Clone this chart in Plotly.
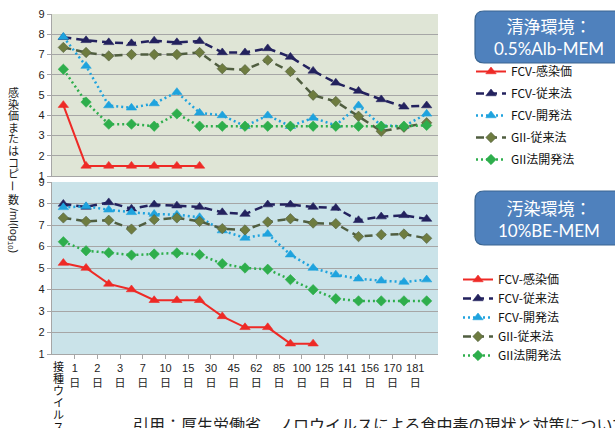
import plotly.graph_objects as go

# ---------------- data ----------------
categories = ["接種ウイルス", "1日", "2日", "3日", "7日", "10日", "15日", "30日", "45日",
              "62日", "85日", "100日", "125日", "141日", "156日", "170日", "181日"]

series_names = ["FCV-感染価", "FCV-従来法", "FCV-開発法", "GII-従来法", "GII法開発法"]

# 清浄環境: 0.5%Alb-MEM
clean_fcv_titer = [4.5, 1.5, 1.5, 1.5, 1.5, 1.5, 1.5, None, None, None, None, None, None, None, None, None, None]
clean_fcv_conv = [7.85, 7.7, 7.6, 7.55, 7.68, 7.6, 7.66, 7.1, 7.1, 7.3, 6.88, 6.19, 5.6, 5.2, 4.78, 4.42, 4.48]
clean_fcv_dev = [7.87, 6.43, 4.48, 4.37, 4.58, 5.14, 4.12, 3.99, 3.46, 3.99, 3.46, 3.87, 3.5, 4.48, 3.49, 3.46, 4.07]
clean_gii_conv = [7.35, 7.1, 6.93, 7.0, 7.0, 7.0, 7.1, 6.3, 6.25, 6.72, 6.16, 4.99, 4.68, 3.95, 3.21, 3.41, 3.63]
clean_gii_dev = [6.27, 4.65, 3.56, 3.56, 3.46, 4.07, 3.46, 3.46, 3.46, 3.46, 3.46, 3.46, 3.46, 3.46, 3.46, 3.46, 3.5]

# 汚染環境: 10%BE-MEM
dirty_fcv_titer = [5.23, 5.0, 4.26, 4.0, 3.5, 3.5, 3.5, 2.75, 2.24, 2.24, 1.48, 1.48, None, None, None, None, None]
dirty_fcv_conv = [7.98, 7.84, 8.05, 7.76, 7.95, 7.9, 7.84, 7.59, 7.51, 7.95, 7.95, 7.84, 7.79, 7.22, 7.39, 7.45, 7.28]
dirty_fcv_dev = [7.82, 7.87, 7.71, 7.59, 7.51, 7.48, 7.36, 6.74, 6.4, 6.58, 5.62, 5.0, 4.69, 4.5, 4.41, 4.35, 4.46]
dirty_gii_conv = [7.33, 7.17, 7.22, 6.81, 7.25, 7.33, 7.17, 6.83, 6.77, 7.14, 7.29, 7.09, 7.06, 6.46, 6.55, 6.58, 6.38]
dirty_gii_dev = [6.22, 5.8, 5.71, 5.6, 5.65, 5.7, 5.62, 5.2, 5.0, 4.94, 4.46, 3.99, 3.57, 3.47, 3.47, 3.47, 3.47]

y_ticks = [1, 2, 3, 4, 5, 6, 7, 8, 9]
panel_titles = ["清浄環境：<br>0.5%Alb-MEM", "汚染環境：<br>10%BE-MEM"]
y_title_upright = "感染価またはコピ"
y_title_tail = "/ml(log<sub>10</sub>)"
citation = "引用：厚生労働省　ノロウイルスによる食中毒の現状と対策について"

# ---------------- styles ----------------
W, H = 615, 428
ML, MR, MT, MB = 52, 177, 14, 74
PW, PH = W - ML - MR, H - MT - MB


def px_x(p):
    return (p - ML) / PW


def px_y(p):
    return (H - MB - p) / PH


styles = [
    dict(color="#EE2A26", dash="solid", symbol="triangle-up", width=2.0, msize=9),
    dict(color="#23225E", dash="8px,5px", symbol="triangle-up", width=2.5, msize=9),
    dict(color="#1FA3DE", dash="2px,3px", symbol="triangle-up", width=2.5, msize=9),
    dict(color="#505E40", dash="8px,5px", symbol="diamond", width=2.5, msize=8),
    dict(color="#2EAE4C", dash="2px,3px", symbol="diamond", width=2.5, msize=8),
]
marker_fill = ["#EE2A26", "#23225E", "#1FA3DE", "#6E7C40", "#2EAE4C"]

xs = list(range(len(categories)))
fig = go.Figure()

panels = [
    ("x", "y", "legend", [clean_fcv_titer, clean_fcv_conv, clean_fcv_dev, clean_gii_conv, clean_gii_dev]),
    ("x2", "y2", "legend2", [dirty_fcv_titer, dirty_fcv_conv, dirty_fcv_dev, dirty_gii_conv, dirty_gii_dev]),
]
for pi, (xa, ya, lg, data) in enumerate(panels):
    for si, (name, vals) in enumerate(zip(series_names, data)):
        st = styles[si]
        fig.add_trace(go.Scatter(
            x=xs, y=vals, name=name, mode="lines+markers",
            xaxis=xa, yaxis=ya, legend=lg, legendgroup=f"{lg}_{si}",
            line=dict(color=st["color"], width=st["width"], dash=st["dash"]),
            marker=dict(symbol=st["symbol"], size=st["msize"], color=marker_fill[si],
                        line=dict(width=0.6, color=st["color"])),
            connectgaps=False, showlegend=True,
        ))

grid_col = "#A6A6A6"
tick_font = dict(family="Liberation Sans, Noto Sans CJK JP", size=11, color="#222222")
ytick_common = dict(range=[1, 9], tickvals=y_ticks, showgrid=True, gridcolor=grid_col, gridwidth=1.4,
                    showline=True, linecolor=grid_col, linewidth=1.4, ticks="outside", ticklen=4,
                    tickcolor=grid_col, tickfont=tick_font, zeroline=False, fixedrange=True,
                    automargin=False)

top_dom = [px_y(176), 1.0]
bot_dom = [0.0, px_y(182)]

xtick_vals = [i - 0.5 for i in xs[1:]]
xtick_text = [c[:-1] + "<br>" + c[-1] for c in categories[1:]]

legend_font = dict(family="Noto Sans CJK JP", size=12, color="#111111")

fig.update_layout(
    width=W, height=H, margin=dict(l=ML, r=MR, t=MT, b=MB, autoexpand=False),
    paper_bgcolor="white", plot_bgcolor="rgba(0,0,0,0)",
    xaxis=dict(domain=[0, 1], anchor="y", range=[-0.5, len(xs) - 0.5], showgrid=False,
               showline=True, linecolor=grid_col, linewidth=1.4, showticklabels=False,
               ticks="", zeroline=False, automargin=False),
    yaxis=dict(domain=top_dom, anchor="x", **ytick_common),
    xaxis2=dict(domain=[0, 1], anchor="y2", range=[-0.5, len(xs) - 0.5], showgrid=False,
                showline=True, linecolor=grid_col, linewidth=1.4, tickvals=xtick_vals,
                ticktext=xtick_text, ticks="outside", ticklen=4, tickcolor=grid_col,
                tickfont=tick_font, tickangle=0, zeroline=False, automargin=False),
    yaxis2=dict(domain=bot_dom, anchor="x2", **ytick_common),
    legend=dict(x=px_x(471), y=px_y(57), xanchor="left", yanchor="top", font=legend_font,
                bgcolor="rgba(0,0,0,0)", tracegroupgap=3, itemwidth=30),
    legend2=dict(x=px_x(458), y=px_y(265), xanchor="left", yanchor="top", font=legend_font,
                 bgcolor="rgba(0,0,0,0)", tracegroupgap=0, itemwidth=30),
    showlegend=True,
)

# panel backgrounds
fig.add_shape(type="rect", xref="x domain", yref="y domain", x0=0, x1=1, y0=0, y1=1,
              fillcolor="#DFE5D6", line=dict(width=0), layer="below")
fig.add_shape(type="rect", xref="x2 domain", yref="y2 domain", x0=0, x1=1, y0=0, y1=1,
              fillcolor="#CAE3E9", line=dict(width=0), layer="below")


# rounded title boxes
def rounded_box(x0p, y0p, x1p, y1p, r=9):
    X0, X1 = px_x(x0p), px_x(x1p)
    Y0, Y1 = px_y(y0p), px_y(y1p)  # Y0 top, Y1 bottom
    rx, ry = r / PW, r / PH
    return (f"M{X0 + rx},{Y0} L{X1 - rx},{Y0} Q{X1},{Y0} {X1},{Y0 - ry} "
            f"L{X1},{Y1 + ry} Q{X1},{Y1} {X1 - rx},{Y1} L{X0 + rx},{Y1} "
            f"Q{X0},{Y1} {X0},{Y1 + ry} L{X0},{Y0 - ry} Q{X0},{Y0} {X0 + rx},{Y0} Z")


for (yt, yb, ycen), title in zip([(11, 63, 37.5), (191, 245, 219.5)], panel_titles):
    fig.add_shape(type="path", xref="paper", yref="paper", path=rounded_box(475, yt, 630, yb),
                  fillcolor="#4F81BD", line=dict(color="#3A6592", width=1.2))
    fig.add_annotation(xref="paper", yref="paper", x=px_x(549), y=px_y(ycen), text=title,
                       showarrow=False, xanchor="center", yanchor="middle",
                       font=dict(family="Lato, Noto Sans CJK JP", size=17, color="white"))

# vertical y-axis title
ann_font = dict(family="Noto Sans CJK JP", size=11, color="#222222")
for k, ch in enumerate(y_title_upright):
    fig.add_annotation(xref="paper", yref="paper", x=px_x(13), y=px_y(92 + 11.6 * k), text=ch,
                       showarrow=False, xanchor="center", yanchor="middle", font=ann_font,
                       borderpad=0)
fig.add_annotation(xref="paper", yref="paper", x=px_x(13), y=px_y(185.5), text="ー",
                   showarrow=False, xanchor="center", yanchor="middle", textangle=90, font=ann_font,
                   borderpad=0)
fig.add_annotation(xref="paper", yref="paper", x=px_x(13), y=px_y(198.5), text="数",
                   showarrow=False, xanchor="center", yanchor="middle", font=ann_font, borderpad=0)
fig.add_annotation(xref="paper", yref="paper", x=px_x(13), y=px_y(230), text=y_title_tail,
                   showarrow=False, xanchor="center", yanchor="middle", textangle=90,
                   font=dict(family="Liberation Sans", size=11, color="#222222"), borderpad=0)

# first category label, written vertically
for k, ch in enumerate(categories[0]):
    fig.add_annotation(xref="x2", yref="paper", x=-0.5, y=px_y(365.7 + 12.1 * k), text=ch,
                       showarrow=False, xanchor="left", yanchor="middle", borderpad=0,
                       font=dict(family="Noto Sans CJK JP", size=11, color="#111111"))

# citation (cut at the bottom of the picture)
fig.add_annotation(xref="paper", yref="paper", x=px_x(131), y=px_y(410), text=citation,
                   showarrow=False, xanchor="left", yanchor="top",
                   font=dict(family="Noto Sans CJK JP", size=16, color="#222222"))

fig.write_html("out.html", config={"displayModeBar": False},
               post_script="document.body.style.margin='0';document.body.style.overflow='hidden';")
